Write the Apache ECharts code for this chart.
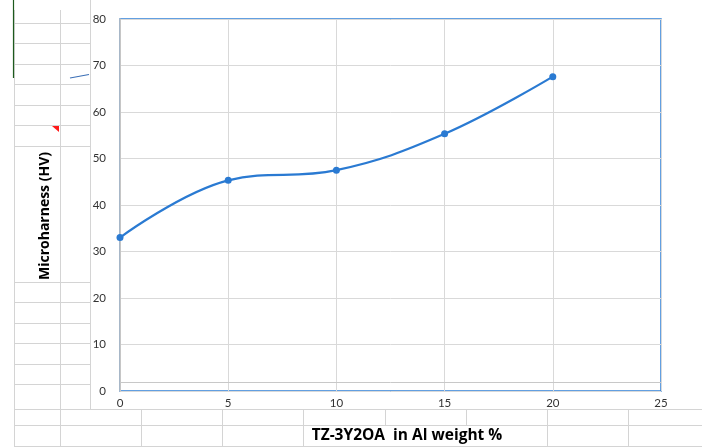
<!DOCTYPE html>
<html><head><meta charset="utf-8">
<script src="https://cdn.jsdelivr.net/npm/echarts@6/dist/echarts.min.js"></script>
<style>html,body{margin:0;padding:0;background:#fff}#c{width:702px;height:447px}</style>
</head><body><div id="c"></div>
<script>
const weightPct = [0, 5, 10, 15, 20];
const hardness = [33, 45.3, 47.5, 55.3, 67.6];
const yTitle = 'Microharness (HV)';
const xTitle = 'TZ-3Y2OA  in Al weight %';

const chart = echarts.init(document.getElementById('c'));
const gl = '#d4d4d4';
const g = [];
function hl(x1, x2, y) { g.push({type:'line', z:-10, silent:true, shape:{x1:x1, y1:y+0.5, x2:x2, y2:y+0.5}, style:{stroke:gl, lineWidth:1}}); }
function vl(x, y1, y2) { g.push({type:'line', z:-10, silent:true, shape:{x1:x+0.5, y1:y1, x2:x+0.5, y2:y2}, style:{stroke:gl, lineWidth:1}}); }
[23, 43, 64, 84, 105, 125, 146, 282, 302, 323, 343, 364, 384].forEach(y => hl(14, 90, y));
vl(14, 10, 447); vl(60, 10, 447);
hl(14, 702, 409); hl(14, 702, 425); hl(14, 702, 446);
[141, 222, 303, 385, 466, 547, 628].forEach(x => vl(x, 409, 425));
[141, 222, 303, 547, 628].forEach(x => vl(x, 425, 447));
vl(90, 0, 409);
g.push({type:'line', silent:true, z:1, shape:{x1:120, y1:382.5, x2:661, y2:382.5}, style:{stroke:'#c8c8c8', lineWidth:1}});
g.push({type:'line', silent:true, shape:{x1:13.5, y1:0, x2:13.5, y2:78}, style:{stroke:'#1d5a1d', lineWidth:1.2}});
g.push({type:'line', silent:true, shape:{x1:70, y1:78, x2:89, y2:74.5}, style:{stroke:'#3b6fb6', lineWidth:1.2}});
g.push({type:'polygon', silent:true, shape:{points:[[52,126],[59,126],[59,132]]}, style:{fill:'#ff1a1a'}});
g.push({type:'text', silent:true, x:45, y:216, rotation:Math.PI/2, style:{text:yTitle, font:'bold 14px "Open Sans", sans-serif', fill:'#000', align:'center', verticalAlign:'middle'}});
g.push({type:'text', silent:true, x:407, y:436, style:{text:xTitle, font:'bold 15.5px "Open Sans", sans-serif', fill:'#000', align:'center', verticalAlign:'middle'}});

chart.setOption({
  animation: false,
  backgroundColor: 'transparent',
  grid: {left:120, right:41, top:19, bottom:56, show:true, borderColor:'#2f80d8', borderWidth:1.5, backgroundColor:'#fff'},
  xAxis: {type:'value', min:0, max:25, interval:5,
    axisLine:{show:false}, axisTick:{show:false},
    axisLabel:{color:'#333', fontSize:11.5, fontFamily:'Lato, sans-serif', margin:6},
    splitLine:{show:true, lineStyle:{color:'#d9d9d9', width:1}}},
  yAxis: {type:'value', min:0, max:80, interval:10,
    axisLine:{show:true, onZero:false, lineStyle:{color:'#bfbfbf', width:1.5}}, axisTick:{show:false},
    axisLabel:{color:'#333', fontSize:11.5, fontFamily:'Lato, sans-serif', margin:14},
    splitLine:{show:true, lineStyle:{color:'#d9d9d9', width:1}}},
  graphic: g,
  series: [{type:'line', data: weightPct.map((x, i) => [x, hardness[i]]), smooth:0.4,
    symbol:'circle', symbolSize:7, itemStyle:{color:'#2a7ad2'}, lineStyle:{color:'#2a7ad2', width:2.2}, z:5}]
});
</script></body></html>
